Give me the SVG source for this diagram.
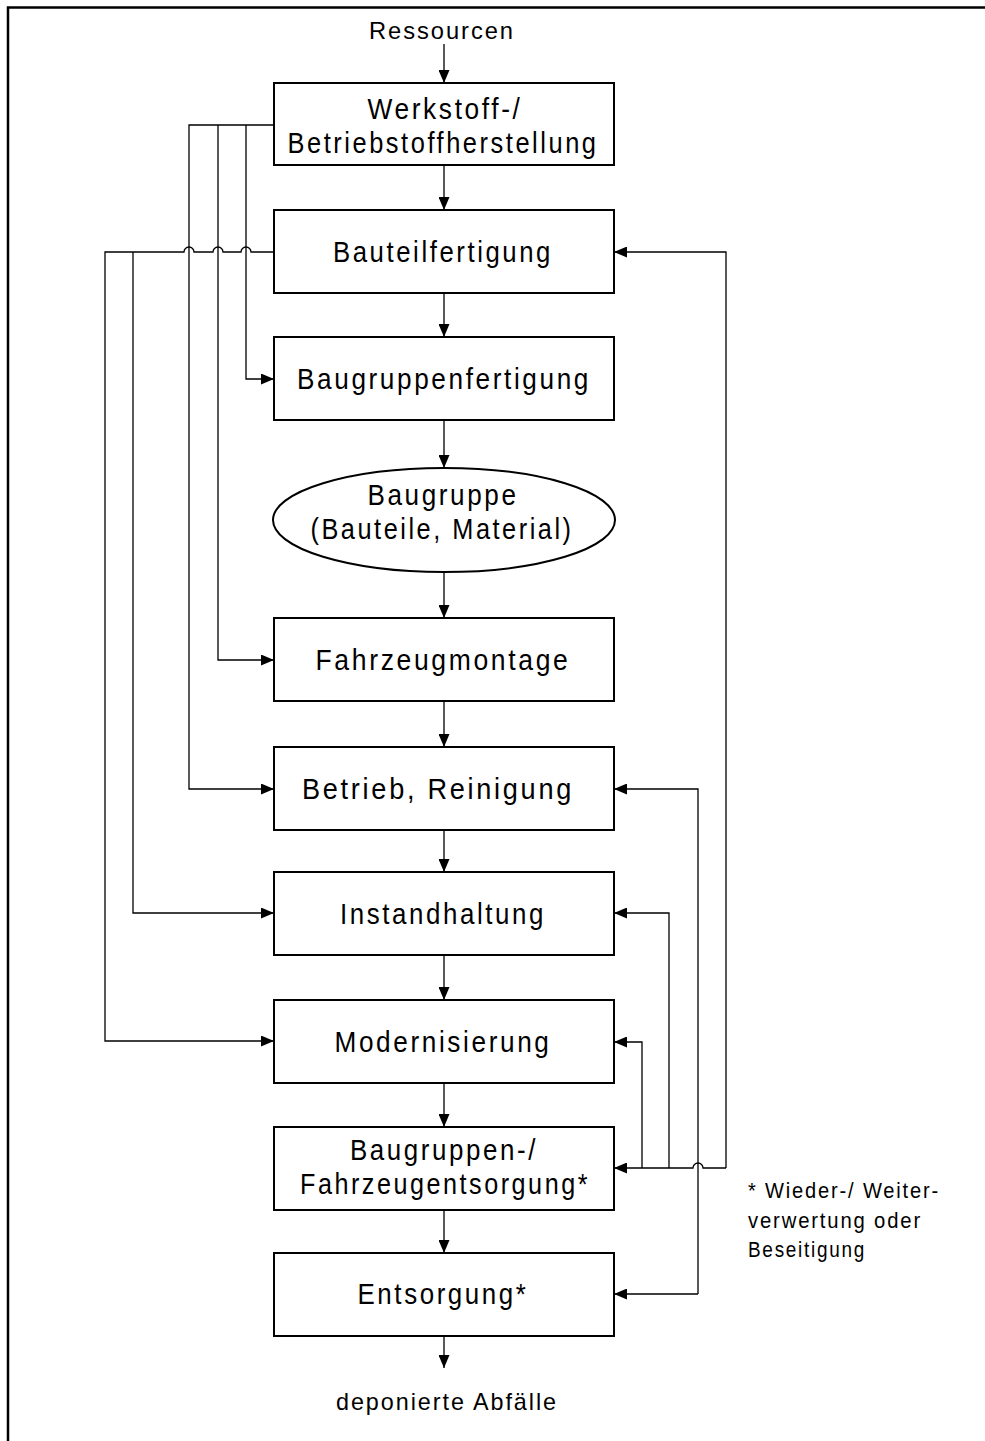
<svg xmlns="http://www.w3.org/2000/svg" width="985" height="1441" viewBox="0 0 985 1441">
  <style>
    .box { fill: #fff; stroke: #000; stroke-width: 2; }
    .lbl { font-family: "Liberation Sans", Arial, sans-serif; font-size: 30px; letter-spacing: 3px; fill: #000; text-anchor: middle; }
    .io { font-family: "Liberation Sans", Arial, sans-serif; font-size: 24px; letter-spacing: 2px; fill: #000; text-anchor: middle; }
    .note { font-family: "Liberation Sans", Arial, sans-serif; font-size: 22px; letter-spacing: 2px; fill: #000; }
    .wire { fill: none; stroke: #000; stroke-width: 1.3; }
    .frame { fill: none; stroke: #000; stroke-width: 2.5; }
  </style>
  <defs>
    <marker id="arrow" markerUnits="userSpaceOnUse" markerWidth="13" markerHeight="11" refX="13" refY="5.5" orient="auto">
      <path d="M0,0 L13,5.5 L0,11 z" fill="#000"/>
    </marker>
  </defs>

  <rect width="985" height="1441" fill="#fff"/>
  <path class="frame" d="M8,1441 V7.5 H985"/>

  <!-- input / output labels -->
  <text class="io" x="442" y="39" textLength="146" lengthAdjust="spacingAndGlyphs">Ressourcen</text>
  <text class="io" x="447" y="1410" textLength="222" lengthAdjust="spacingAndGlyphs">deponierte Abfälle</text>

  <!-- process nodes -->
  <g id="werkstoff">
    <rect class="box" x="274" y="83" width="340" height="82"/>
    <text class="lbl" x="445" y="119" textLength="155" lengthAdjust="spacingAndGlyphs">Werkstoff-/</text>
    <text class="lbl" x="443" y="153" textLength="311" lengthAdjust="spacingAndGlyphs">Betriebstoffherstellung</text>
  </g>
  <g id="bauteilfertigung">
    <rect class="box" x="274" y="210" width="340" height="83"/>
    <text class="lbl" x="443" y="262" textLength="220" lengthAdjust="spacingAndGlyphs">Bauteilfertigung</text>
  </g>
  <g id="baugruppenfertigung">
    <rect class="box" x="274" y="337" width="340" height="83"/>
    <text class="lbl" x="444" y="389" textLength="294" lengthAdjust="spacingAndGlyphs">Baugruppenfertigung</text>
  </g>
  <g id="baugruppe">
    <ellipse class="box" cx="444" cy="520" rx="171" ry="52"/>
    <text class="lbl" x="443" y="505" textLength="151" lengthAdjust="spacingAndGlyphs">Baugruppe</text>
    <text class="lbl" x="442" y="539" textLength="263" lengthAdjust="spacingAndGlyphs">(Bauteile, Material)</text>
  </g>
  <g id="fahrzeugmontage">
    <rect class="box" x="274" y="618" width="340" height="83"/>
    <text class="lbl" x="443" y="670" textLength="255" lengthAdjust="spacingAndGlyphs">Fahrzeugmontage</text>
  </g>
  <g id="betrieb">
    <rect class="box" x="274" y="747" width="340" height="83"/>
    <text class="lbl" x="438" y="799" textLength="272" lengthAdjust="spacingAndGlyphs">Betrieb, Reinigung</text>
  </g>
  <g id="instandhaltung">
    <rect class="box" x="274" y="872" width="340" height="83"/>
    <text class="lbl" x="443" y="924" textLength="206" lengthAdjust="spacingAndGlyphs">Instandhaltung</text>
  </g>
  <g id="modernisierung">
    <rect class="box" x="274" y="1000" width="340" height="83"/>
    <text class="lbl" x="443" y="1052" textLength="217" lengthAdjust="spacingAndGlyphs">Modernisierung</text>
  </g>
  <g id="fahrzeugentsorgung">
    <rect class="box" x="274" y="1127" width="340" height="83"/>
    <text class="lbl" x="444" y="1160" textLength="188" lengthAdjust="spacingAndGlyphs">Baugruppen-/</text>
    <text class="lbl" x="445" y="1194" textLength="290" lengthAdjust="spacingAndGlyphs">Fahrzeugentsorgung*</text>
  </g>
  <g id="entsorgung">
    <rect class="box" x="274" y="1253" width="340" height="83"/>
    <text class="lbl" x="443" y="1304" textLength="171" lengthAdjust="spacingAndGlyphs">Entsorgung*</text>
  </g>

  <!-- footnote -->
  <g id="footnote">
    <text class="note" x="748" y="1198" textLength="192" lengthAdjust="spacingAndGlyphs">* Wieder-/ Weiter-</text>
    <text class="note" x="748" y="1228" textLength="174" lengthAdjust="spacingAndGlyphs">verwertung oder</text>
    <text class="note" x="748" y="1257" textLength="118" lengthAdjust="spacingAndGlyphs">Beseitigung</text>
  </g>

  <g id="connectors">
    <!-- main flow -->
    <path class="wire" marker-end="url(#arrow)" d="M444,44 V83"/>
    <path class="wire" marker-end="url(#arrow)" d="M444,165 V210"/>
    <path class="wire" marker-end="url(#arrow)" d="M444,293 V337"/>
    <path class="wire" marker-end="url(#arrow)" d="M444,420 V468"/>
    <path class="wire" marker-end="url(#arrow)" d="M444,572 V618"/>
    <path class="wire" marker-end="url(#arrow)" d="M444,701 V747"/>
    <path class="wire" marker-end="url(#arrow)" d="M444,830 V872"/>
    <path class="wire" marker-end="url(#arrow)" d="M444,955 V1000"/>
    <path class="wire" marker-end="url(#arrow)" d="M444,1083 V1127"/>
    <path class="wire" marker-end="url(#arrow)" d="M444,1210 V1253"/>
    <path class="wire" marker-end="url(#arrow)" d="M444,1336 V1368"/>

    <!-- left feeds from material production -->
    <path class="wire" marker-end="url(#arrow)" d="M274,125 H189 V789 H274"/>
    <path class="wire" marker-end="url(#arrow)" d="M218,125 V660 H274"/>
    <path class="wire" marker-end="url(#arrow)" d="M246,125 V379 H274"/>

    <!-- left feeds from component production, hopping the verticals -->
    <path class="wire" marker-end="url(#arrow)" d="M274,252 H251 A5,5 0 0 0 241,252 H223 A5,5 0 0 0 213,252 H194 A5,5 0 0 0 184,252 H105 V1041 H274"/>
    <path class="wire" marker-end="url(#arrow)" d="M133,252 V913 H274"/>

    <!-- right-hand return loops -->
    <path class="wire" marker-end="url(#arrow)" d="M726,1168 H703 A5,5 0 0 0 693,1168 H614"/>
    <path class="wire" marker-end="url(#arrow)" d="M726,1168 V252 H614"/>
    <path class="wire" marker-end="url(#arrow)" d="M642,1168 V1042 H614"/>
    <path class="wire" marker-end="url(#arrow)" d="M669,1168 V913 H614"/>
    <path class="wire" marker-end="url(#arrow)" d="M698,1294 V789 H614"/>
    <path class="wire" marker-end="url(#arrow)" d="M698,1294 H614"/>
  </g>
</svg>
